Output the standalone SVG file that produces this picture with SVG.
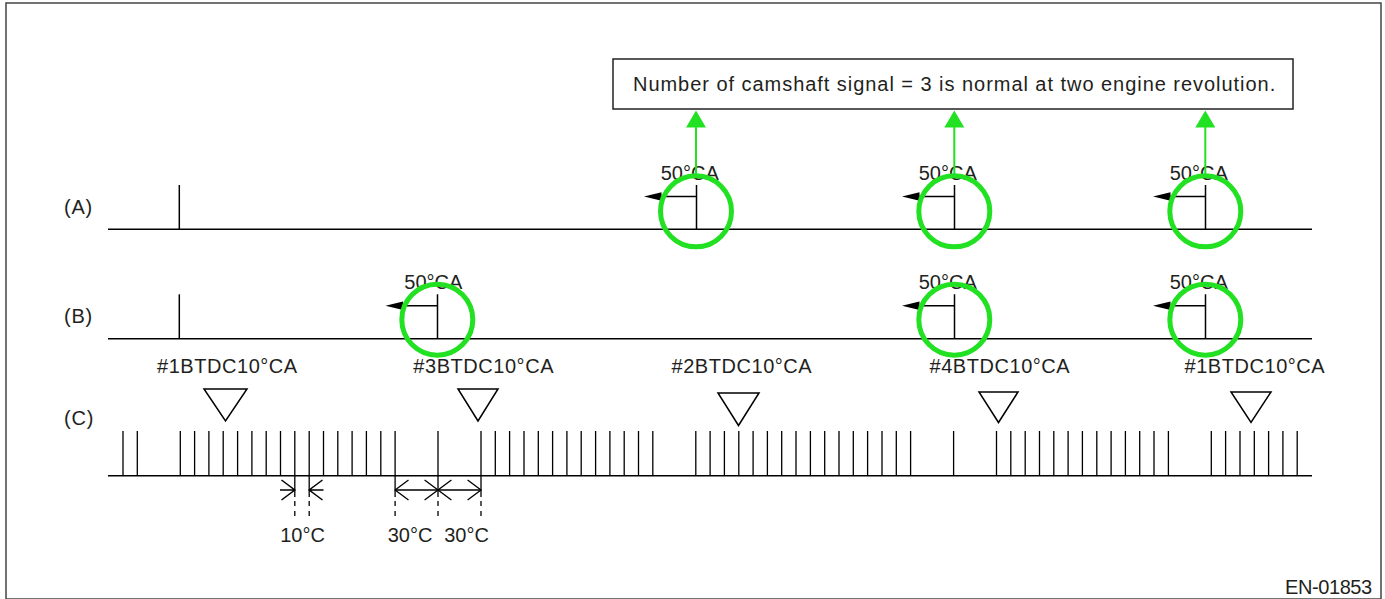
<svg xmlns="http://www.w3.org/2000/svg" width="1385" height="599" viewBox="0 0 1385 599">
<style>
  text { font-family: "Liberation Sans", Arial, sans-serif; font-size: 20px; fill: #231f20; letter-spacing: 0.8px; }
  .ln { stroke: #000; stroke-width: 1.5; fill: none; }
  .tk { stroke: #000; stroke-width: 1.3; fill: none; }
  .tri { stroke: #000; stroke-width: 1.5; fill: #fff; stroke-linejoin: miter; }
  .ring { stroke: #22e022; stroke-width: 5; fill: none; }
  .gl { stroke: #22e022; stroke-width: 2; fill: none; }
  .gh { fill: #22e022; }
  .ah { fill: #000; }
  .dash { stroke: #000; stroke-width: 1.3; stroke-dasharray: 5 5; fill: none; }
  .ca { letter-spacing: 0; }
</style>
<rect x="0" y="0" width="1385" height="599" fill="#fff"/>
<rect x="6" y="3" width="1375" height="596" fill="none" stroke="#444" stroke-width="1.5"/>

<g id="note">
  <rect x="613" y="59" width="680" height="50" fill="#fff" stroke="#222" stroke-width="1.5"/>
  <text x="633" y="90.5" textLength="643" lengthAdjust="spacing">Number of camshaft signal = 3 is normal at two engine revolution.</text>
</g>

<g id="labels">
  <text x="64" y="213.5">(A)</text>
  <text x="64" y="322.5">(B)</text>
  <text x="64" y="424.5">(C)</text>
  <text x="1285" y="594" textLength="88" lengthAdjust="spacing">EN-01853</text>
</g>

<g id="signalA">
  <path class="ln" d="M108 229.3H1312"/>
  <path class="ln" d="M179.3 185V229.3"/>
</g>
<g id="signalB">
  <path class="ln" d="M108 338.7H1312"/>
  <path class="ln" d="M179.3 294.3V338.7"/>
</g>

<g id="pulseA1">
  <path class="ln" d="M696.5 185V229.3M696.5 196.5H660"/>
  <polygon class="ah" points="644,196.5 661.5,192.3 661.5,200.7"/>
  <text class="ca" x="660.7" y="179.5">50°CA</text>
  <circle class="ring" cx="696" cy="211.3" r="35.5"/>
</g>
<g id="pulseA2">
  <path class="ln" d="M954.5 185V229.3M954.5 196.5H918"/>
  <polygon class="ah" points="902,196.5 919.5,192.3 919.5,200.7"/>
  <text class="ca" x="918.7" y="179.5">50°CA</text>
  <circle class="ring" cx="954.3" cy="211.3" r="35.5"/>
</g>
<g id="pulseA3">
  <path class="ln" d="M1205.5 185V229.3M1205.5 196.5H1169"/>
  <polygon class="ah" points="1153,196.5 1170.5,192.3 1170.5,200.7"/>
  <text class="ca" x="1169.7" y="179.5">50°CA</text>
  <circle class="ring" cx="1205.3" cy="211.3" r="35.5"/>
</g>

<g id="pulseB1">
  <path class="ln" d="M437.5 294.3V338.7M437.5 305.7H401"/>
  <polygon class="ah" points="385.5,305.7 403,301.5 403,309.9"/>
  <text class="ca" x="404.3" y="288.5">50°CA</text>
  <circle class="ring" cx="437.3" cy="319.7" r="35.5"/>
</g>
<g id="pulseB2">
  <path class="ln" d="M954.5 294.3V338.7M954.5 305.7H918"/>
  <polygon class="ah" points="902,305.7 919.5,301.5 919.5,309.9"/>
  <text class="ca" x="918.7" y="288.5">50°CA</text>
  <circle class="ring" cx="954.3" cy="319.7" r="35.5"/>
</g>
<g id="pulseB3">
  <path class="ln" d="M1205.5 294.3V338.7M1205.5 305.7H1169"/>
  <polygon class="ah" points="1153,305.7 1170.5,301.5 1170.5,309.9"/>
  <text class="ca" x="1169.7" y="288.5">50°CA</text>
  <circle class="ring" cx="1205.3" cy="319.7" r="35.5"/>
</g>

<g id="connectors">
  <path class="gl" d="M696 126V174"/>
  <polygon class="gh" points="696,110.5 686,127.5 706,127.5"/>
  <path class="gl" d="M954.3 126V174"/>
  <polygon class="gh" points="954.3,110.5 944.3,127.5 964.3,127.5"/>
  <path class="gl" d="M1205.3 126V174"/>
  <polygon class="gh" points="1205.3,110.5 1195.3,127.5 1215.3,127.5"/>
</g>

<g id="tdc-labels">
  <text x="157" y="373.3" textLength="141" lengthAdjust="spacing">#1BTDC10°CA</text>
  <text x="413.3" y="373.3" textLength="141" lengthAdjust="spacing">#3BTDC10°CA</text>
  <text x="671.5" y="373.3" textLength="141" lengthAdjust="spacing">#2BTDC10°CA</text>
  <text x="929.5" y="373.3" textLength="141" lengthAdjust="spacing">#4BTDC10°CA</text>
  <text x="1184.5" y="373.3" textLength="141" lengthAdjust="spacing">#1BTDC10°CA</text>
</g>

<g id="tdc-marks">
  <polygon class="tri" points="204,389 247,389 225.5,421"/>
  <polygon class="tri" points="458,389 498,389 478,421"/>
  <polygon class="tri" points="718,393 759,393 738.5,425.5"/>
  <polygon class="tri" points="979,392 1018,392 998.5,422.5"/>
  <polygon class="tri" points="1231,392 1271,392 1251,422.5"/>
</g>

<g id="signalC">
  <path class="ln" d="M108 475.7H1312"/>
  <path class="tk" d="M123 431V476M137.3 431V476
  M180.3 431V476M194.6 431V476M208.9 431V476M223.2 431V476M237.6 431V476M251.9 431V476M266.2 431V476M280.5 431V476
  M294.8 431V476M309.2 431V476M323.5 431V476M337.8 431V476M352.1 431V476M366.4 431V476M380.8 431V476M395.1 431V476
  M438 431V476
  M481 431V476M495.3 431V476M509.6 431V476M524 431V476M538.3 431V476M552.6 431V476M566.9 431V476M581.2 431V476
  M595.6 431V476M609.9 431V476M624.2 431V476M638.5 431V476M652.8 431V476
  M695.8 431V476M710.1 431V476M724.4 431V476M738.8 431V476M753.1 431V476M767.4 431V476M781.7 431V476M796 431V476
  M810.4 431V476M824.7 431V476M839 431V476M853.3 431V476M867.6 431V476M882 431V476M896.3 431V476M910.6 431V476
  M953.6 431V476
  M996.5 431V476M1010.8 431V476M1025.2 431V476M1039.5 431V476M1053.8 431V476M1068.1 431V476M1082.4 431V476
  M1096.8 431V476M1111.1 431V476M1125.4 431V476M1139.7 431V476M1154 431V476M1168.4 431V476
  M1211.3 431V476M1225.6 431V476M1240 431V476M1254.3 431V476M1268.6 431V476M1282.9 431V476M1297.2 431V476"/>
</g>

<g id="dimensions">
  <path class="tk" d="M294.8 476V497M309.2 476V497M395.1 476V497M438 476V497M481 476V497"/>
  <path class="dash" d="M294.8 501V517M309.2 501V517M395.1 501V517M438 501V517M481 501V517"/>
  <path class="ln" d="M280 490H294.8M281.5 480L294.8 490L281.5 500"/>
  <path class="ln" d="M309.2 490H323.5M322.5 480L309.2 490L322.5 500"/>
  <path class="tk" d="M395.1 490H481"/>
  <path class="tk" d="M408.5 480L395.1 490L408.5 500"/>
  <path class="tk" d="M424.6 480L438 490L424.6 500"/>
  <path class="tk" d="M451.4 480L438 490L451.4 500"/>
  <path class="tk" d="M467.6 480L481 490L467.6 500"/>
  <text class="ca" x="302.5" y="541.7" text-anchor="middle">10°C</text>
  <text class="ca" x="410" y="541.7" text-anchor="middle">30°C</text>
  <text class="ca" x="466.5" y="541.7" text-anchor="middle">30°C</text>
</g>
</svg>
